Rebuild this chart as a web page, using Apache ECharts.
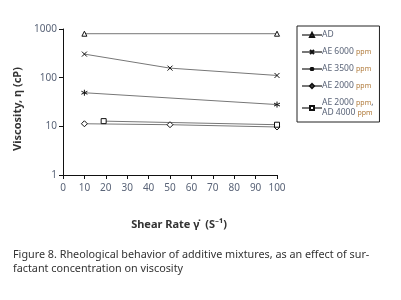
<!DOCTYPE html>
<html>
<head>
<meta charset="utf-8">
<script src="https://cdn.jsdelivr.net/npm/echarts@6/dist/echarts.min.js"></script>
<style>
  html, body { margin: 0; padding: 0; background: #fff; }
  #chart { width: 401px; height: 300px; }
</style>
</head>
<body>
<div id="chart"></div>
<script>
// data
var xTicks = [0, 10, 20, 30, 40, 50, 60, 70, 80, 90, 100];
var yTicks = [1, 10, 100, 1000];
var seriesNames = ['AD', 'AE 6000 ppm', 'AE 3500 ppm', 'AE 2000 ppm', 'AE 2000 ppm,\nAD 4000 ppm'];
var ad = [[10, 800], [100, 800]];
var ae6000 = [[10, 305], [50, 157], [100, 111]];
var ae3500 = [[10, 49], [100, 28]];
var ae2000 = [[10, 11.3], [50, 10.8], [100, 9.7]];
var ae2000ad4000 = [[19, 12.8], [100, 10.8]];

var font = 'Noto Sans';
var symX = 'path://M0,0L10,10M10,0L0,10';
var symStar = 'path://M5,0L5,10M0,2.5L10,7.5M10,2.5L0,7.5';

function mk(name, data, symbol, size, fill) {
  return {
    name: name,
    type: 'line',
    data: data,
    symbol: symbol,
    symbolSize: size,
    showSymbol: true,
    lineStyle: { color: '#777', width: 1 },
    itemStyle: { color: fill, borderColor: '#111', borderWidth: 1 }
  };
}

var myChart = echarts.init(document.getElementById('chart'));
var option = {
  animation: false,
  textStyle: { fontFamily: font },
  grid: { left: 63, right: 124, top: 29, bottom: 125 },
  legend: {
    orient: 'vertical',
    left: 297,
    top: 26,
    padding: [4, 6, 4, 4],
    borderColor: '#222',
    borderWidth: 1,
    itemGap: 7,
    itemWidth: 20,
    itemHeight: 5,
    data: seriesNames,
    formatter: function (name) {
      return name.replace(/ppm/g, '{p|ppm}');
    },
    textStyle: {
      fontFamily: font,
      fontSize: 8.5,
      color: '#5a6478',
      lineHeight: 10,
      padding: [0, 0, 0, -5],
      rich: { p: { fontSize: 7, color: '#b07a3a', fontFamily: font } }
    }
  },
  xAxis: {
    type: 'value',
    min: xTicks[0],
    max: xTicks[xTicks.length - 1],
    interval: 10,
    name: 'Shear Rate γ̇  (S⁻¹)',
    nameLocation: 'middle',
    nameGap: 44,
    nameTextStyle: { fontFamily: font, fontSize: 11, fontWeight: 'bold', color: '#333', padding: [0, 0, 0, 18] },
    axisLine: { lineStyle: { color: '#111', width: 1 } },
    axisTick: { length: 4, lineStyle: { color: '#111' } },
    axisLabel: { fontSize: 10, color: '#5a6478', margin: 8 },
    splitLine: { show: false }
  },
  yAxis: {
    type: 'log',
    logBase: 10,
    min: yTicks[0],
    max: yTicks[yTicks.length - 1],
    name: 'Viscosity, η (cP)',
    nameLocation: 'middle',
    nameGap: 37,
    nameTextStyle: { fontFamily: font, fontSize: 11, fontWeight: 'bold', color: '#333', padding: [0, 14, 0, 0] },
    axisLine: { show: true, lineStyle: { color: '#111', width: 1 } },
    axisTick: { show: true, length: 4, lineStyle: { color: '#111' } },
    axisLabel: {
      fontSize: 10, color: '#5a6478', margin: 6,
      formatter: function (v) { return String(Math.round(v)); }
    },
    splitLine: { show: false }
  },
  series: [
    mk(seriesNames[0], ad, 'triangle', 5, '#fff'),
    mk(seriesNames[1], ae6000, symX, 5, 'none'),
    mk(seriesNames[2], ae3500, symStar, 6, 'none'),
    mk(seriesNames[3], ae2000, 'diamond', 6, '#fff'),
    mk(seriesNames[4], ae2000ad4000, 'rect', 5, '#fff')
  ],
  graphic: [
    {
      type: 'text',
      left: 13,
      top: 248,
      style: {
        text: 'Figure 8. Rheological behavior of additive mixtures, as an effect of sur-\nfactant concentration on viscosity',
        fontFamily: font,
        fontSize: 10.8,
        lineHeight: 14,
        fill: '#333'
      }
    }
  ]
};
myChart.setOption(option);
window.addEventListener("resize", function () {
  myChart.resize();
});
</script>
</body>
</html>
